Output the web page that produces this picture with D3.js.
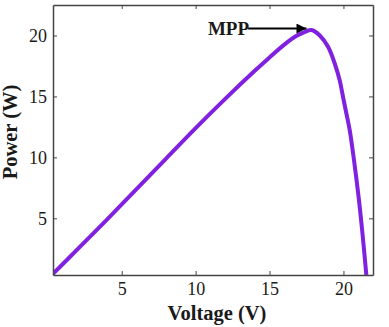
<!DOCTYPE html>
<html>
<head>
<meta charset="utf-8">
<script src="https://cdn.jsdelivr.net/npm/d3@7"></script>
<style>
  body { margin: 0; background: #fff; }
</style>
</head>
<body>
<div class="pv-chart"></div>
<script>
// P-V curve
const voltage = [0.35, 2, 4, 6, 8, 10, 12, 14, 15, 16, 16.8, 17.4, 17.84, 18.4, 18.96, 19.41, 19.75, 19.97, 20.2, 20.43, 20.7, 21.05, 21.3, 21.55];
const power   = [0.45, 2.45, 4.9, 7.4, 9.9, 12.4, 14.8, 17.1, 18.2, 19.25, 19.95, 20.3, 20.45, 20.0, 19.07, 17.7, 16.3, 14.97, 13.6, 12.2, 9.9, 6.5, 3.6, 0.35];

const xTicks = [5, 10, 15, 20];
const yTicks = [5, 10, 15, 20];

// MPP annotation: arrow from label to peak (data coords)
const mppText = "MPP";
const mppArrowFrom = [13.55, 20.57];
const mppArrowTo = [17.5, 20.57];

const width = 389, height = 327;
const margin = {top: 5, right: 16, bottom: 52, left: 53};
const serif = "'Liberation Serif', 'Times New Roman', serif";

const svg = d3.select(".pv-chart")
    .append("svg")
    .attr("width", width)
    .attr("height", height);

const x = d3.scaleLinear()
    .domain([0.35, 22])
    .range([margin.left, width - margin.right]);
const y = d3.scaleLinear()
    .domain([0.35, 22.5])
    .range([height - margin.bottom, margin.top]);

const data = voltage.map((v, i) => ({v: v, p: power[i]}));

svg.append("clipPath").attr("id", "plot-clip")
    .append("rect")
    .attr("x", margin.left).attr("y", margin.top)
    .attr("width", width - margin.left - margin.right)
    .attr("height", height - margin.top - margin.bottom);

// curve
const line = d3.line()
    .x(d => x(d.v))
    .y(d => y(d.p))
    .curve(d3.curveCatmullRom.alpha(0.5));

svg.append("path")
    .datum(data)
    .attr("clip-path", "url(#plot-clip)")
    .attr("d", line)
    .attr("fill", "none")
    .attr("stroke", "#8020e0")
    .attr("stroke-width", 4)
    .attr("stroke-linejoin", "round");

// axes (ticks inward, box on all sides)
const axisColor = "#444";
const tickLen = 4;

const axBottom = svg.append("g")
    .attr("transform", `translate(0,${height - margin.bottom})`)
    .call(d3.axisBottom(x).tickValues(xTicks).tickSizeInner(-tickLen).tickSizeOuter(0).tickPadding(7));
const axLeft = svg.append("g")
    .attr("transform", `translate(${margin.left},0)`)
    .call(d3.axisLeft(y).tickValues(yTicks).tickSizeInner(-tickLen).tickSizeOuter(0).tickPadding(6));
const axTop = svg.append("g")
    .attr("transform", `translate(0,${margin.top})`)
    .call(d3.axisTop(x).tickValues(xTicks).tickSizeInner(-tickLen).tickSizeOuter(0).tickFormat(""));
const axRight = svg.append("g")
    .attr("transform", `translate(${width - margin.right},0)`)
    .call(d3.axisRight(y).tickValues(yTicks).tickSizeInner(-tickLen).tickSizeOuter(0).tickFormat(""));

[axBottom, axLeft, axTop, axRight].forEach(g => {
    g.attr("font-family", serif).attr("font-size", 18);
    g.select(".domain").attr("stroke", axisColor).attr("stroke-width", 1.5);
    g.selectAll(".tick line").attr("stroke", axisColor);
    g.selectAll(".tick text").attr("fill", "#1a1a1a");
});

// axis titles
svg.append("text")
    .text("Voltage (V)")
    .attr("x", 217)
    .attr("y", 320)
    .attr("text-anchor", "middle")
    .attr("font-family", serif)
    .attr("font-size", 20.5)
    .attr("font-weight", "bold")
    .attr("fill", "#1a1a1a");

svg.append("text")
    .text("Power (W)")
    .attr("transform", "translate(17,132) rotate(-90)")
    .attr("text-anchor", "middle")
    .attr("font-family", serif)
    .attr("font-size", 20.5)
    .attr("font-weight", "bold")
    .attr("fill", "#1a1a1a");

// MPP label and arrow
svg.append("defs").append("marker")
    .attr("id", "arrowhead")
    .attr("viewBox", "0 0 10 10")
    .attr("refX", 10).attr("refY", 5)
    .attr("markerWidth", 12).attr("markerHeight", 10)
    .attr("markerUnits", "userSpaceOnUse")
    .attr("orient", "auto")
    .append("path")
    .attr("d", "M0,0 L10,5 L0,10 Z")
    .attr("fill", "#000");

svg.append("line")
    .attr("x1", x(mppArrowFrom[0])).attr("y1", y(mppArrowFrom[1]))
    .attr("x2", x(mppArrowTo[0])).attr("y2", y(mppArrowTo[1]))
    .attr("stroke", "#000")
    .attr("stroke-width", 2)
    .attr("marker-end", "url(#arrowhead)");

svg.append("text")
    .text(mppText)
    .attr("x", x(mppArrowFrom[0]) + 1)
    .attr("y", y(mppArrowFrom[1]) + 6.5)
    .attr("text-anchor", "end")
    .attr("font-family", serif)
    .attr("font-size", 19)
    .attr("font-weight", "bold")
    .attr("fill", "#1a1a1a");
</script>
</body>
</html>
